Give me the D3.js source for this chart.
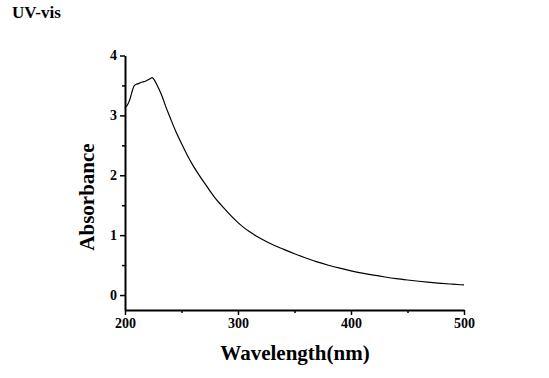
<!DOCTYPE html>
<html>
<head>
<meta charset="utf-8">
<script src="https://cdn.jsdelivr.net/npm/d3@7"></script>
<style>
  html, body { margin: 0; padding: 0; background: #fff; }
  svg { display: block; }
  text { font-family: "Liberation Serif", "Times New Roman", serif; font-weight: bold; fill: #000; }
</style>
</head>
<body>
<svg id="chart" width="549" height="378"></svg>
<script>
const wavelength = [200, 202, 204, 206, 208, 210, 212, 214, 216, 218, 220, 222, 224, 226, 228, 230, 233, 236, 240, 245, 250, 255, 260, 265, 270, 275, 280, 285, 290, 295, 300, 305, 310, 315, 320, 325, 330, 335, 340, 350, 360, 370, 380, 390, 400, 410, 420, 430, 440, 450, 460, 470, 480, 490, 500];
const absorbance = [3.13, 3.17, 3.25, 3.38, 3.49, 3.52, 3.53, 3.55, 3.56, 3.57, 3.59, 3.61, 3.63, 3.59, 3.52, 3.44, 3.31, 3.15, 2.96, 2.73, 2.53, 2.34, 2.17, 2.02, 1.88, 1.745, 1.615, 1.505, 1.40, 1.30, 1.21, 1.13, 1.06, 0.998, 0.943, 0.893, 0.848, 0.806, 0.766, 0.689, 0.618, 0.554, 0.498, 0.448, 0.404, 0.365, 0.331, 0.301, 0.274, 0.251, 0.23, 0.211, 0.195, 0.181, 0.168];
const xTicks = [200, 300, 400, 500];
const xMinorTicks = [250, 350, 450];
const yTicks = [0, 1, 2, 3, 4];
const yMinorTicks = [0.5, 1.5, 2.5, 3.5];
const title = "UV-vis";
const xLabel = "Wavelength(nm)";
const yLabel = "Absorbance";

const svg = d3.select("#chart");
const x = d3.scaleLinear().domain([200, 500]).range([125, 464]);
const y = d3.scaleLinear().domain([-0.25, 4]).range([310, 55.5]);

// minor ticks
svg.append("g").attr("transform", "translate(0,310)")
  .call(d3.axisBottom(x).tickValues(xMinorTicks).tickSize(3).tickFormat(""))
  .call(g => g.select(".domain").remove())
  .call(g => g.selectAll("line").attr("stroke-width", 1.5));
svg.append("g").attr("transform", "translate(125,0)")
  .call(d3.axisLeft(y).tickValues(yMinorTicks).tickSize(3).tickFormat(""))
  .call(g => g.select(".domain").remove())
  .call(g => g.selectAll("line").attr("stroke-width", 1.5));

// major axes
const xAxis = svg.append("g").attr("transform", "translate(0,310)")
  .call(d3.axisBottom(x).tickValues(xTicks).tickSize(5).tickSizeOuter(0).tickPadding(3).tickFormat(d3.format("d")));
xAxis.select(".domain").attr("stroke-width", 2);
xAxis.selectAll("line").attr("stroke-width", 1.5);
xAxis.selectAll("text").style("font-size", "14px").style("font-family", "Liberation Serif").style("font-weight", "bold");

const yAxis = svg.append("g").attr("transform", "translate(125,0)")
  .call(d3.axisLeft(y).tickValues(yTicks).tickSize(5).tickSizeOuter(0).tickPadding(3).tickFormat(d3.format("d")));
yAxis.select(".domain").attr("stroke-width", 2);
yAxis.selectAll("line").attr("stroke-width", 1.5);
yAxis.selectAll("text").style("font-size", "14px").style("font-family", "Liberation Serif").style("font-weight", "bold");

// curve
const data = wavelength.map((w, i) => ({ w, a: absorbance[i] }));
svg.append("path")
  .datum(data)
  .attr("fill", "none")
  .attr("stroke", "#000")
  .attr("stroke-width", 1.2)
  .attr("d", d3.line().x(d => x(d.w)).y(d => y(d.a)).curve(d3.curveMonotoneX));

// labels
svg.append("text").attr("x", 12).attr("y", 18).style("font-size", "17px").text(title);
svg.append("text").attr("x", 295).attr("y", 360).attr("text-anchor", "middle").style("font-size", "21px").text(xLabel);
svg.append("text").attr("transform", "translate(94,197) rotate(-90)").attr("text-anchor", "middle").style("font-size", "21px").text(yLabel);
</script>
</body>
</html>
